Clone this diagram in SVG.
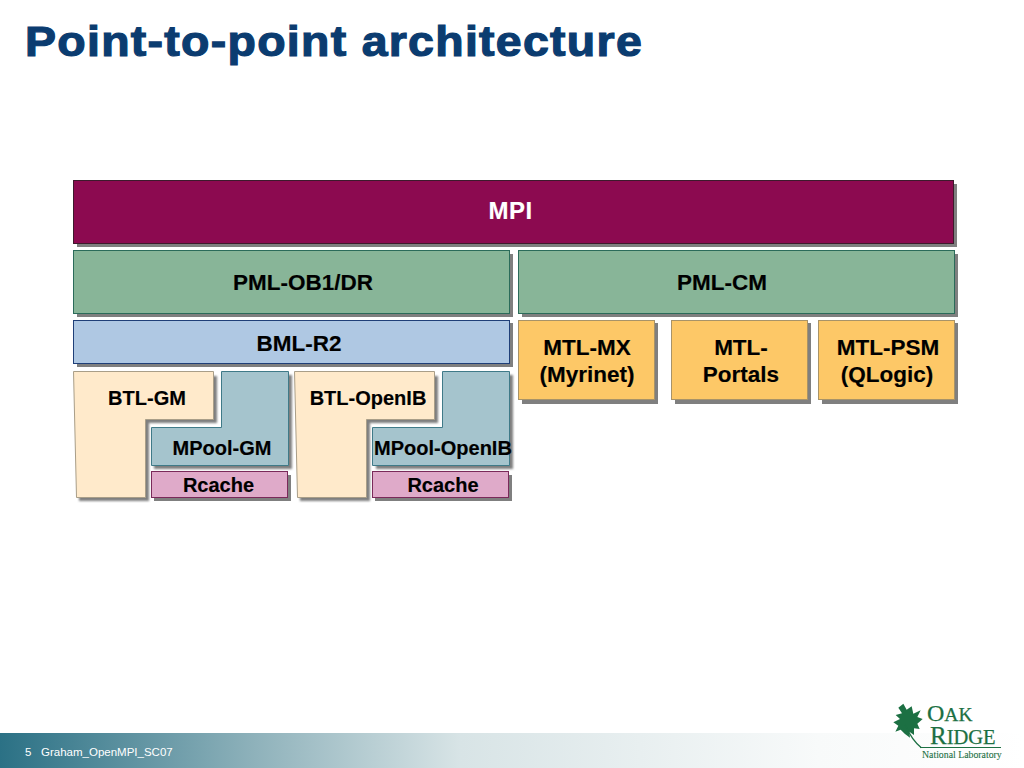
<svg xmlns="http://www.w3.org/2000/svg" width="1024" height="768" viewBox="0 0 1024 768">
<style>
text{font-family:"Liberation Sans",Arial,sans-serif;font-weight:700;fill:#000;text-anchor:middle;stroke:#000;stroke-width:.15px}
.l{font-size:22.5px}
.m{font-size:20px}
.s{fill:#7f7f7f}
.mpi{fill:#8c0a50;stroke:#3d1a2c;stroke-width:1}
.pml{fill:#88b598;stroke:#2b6b5a;stroke-width:1}
.bml{fill:#afc8e3;stroke:#1f3f78;stroke-width:1}
.mtl{fill:#fdc867;stroke:#a89368;stroke-width:1}
.btl{fill:#ffeacb;stroke:#a99e88;stroke-width:1}
.mp{fill:#a5c4cd;stroke:#3f7a88;stroke-width:1}
.rc{fill:#dfaac9;stroke:#7a2a5a;stroke-width:1}
.f{font-size:11.5px;font-weight:400;fill:#fff;stroke:none;text-anchor:start}
.o{font-family:"Liberation Serif",serif;font-weight:400;fill:#1c7043;stroke:#1c7043;stroke-width:.25px;text-anchor:start}
</style>
<defs>
<linearGradient id="bar" x1="0" x2="1" y1="0" y2="0"><stop offset="0" stop-color="#2b7185"/><stop offset=".25" stop-color="#8fb2bb"/><stop offset=".45" stop-color="#d8e4e6"/><stop offset=".8" stop-color="#f8fafa"/><stop offset="1" stop-color="#fff"/></linearGradient>
<filter id="blur" x="-5%" y="-5%" width="110%" height="110%"><feGaussianBlur stdDeviation="1"/></filter>
</defs>
<rect width="1024" height="768" fill="#fff"/>
<text transform="translate(25 56) scale(1.08 1)" x="0" y="0" style="font-size:43px;fill:#0b3c70;stroke:#0b3c70;stroke-width:1.2px;text-anchor:start;letter-spacing:1.2px">Point-to-point architecture</text>
<g id="footer">
<rect x="0" y="733" width="1024" height="35" fill="url(#bar)"/>
<text class="f" x="25" y="756">5</text>
<text class="f" x="41" y="756">Graham_OpenMPI_SC07</text>
</g>
<g id="mpi"><rect class="s" x="77" y="184" width="880" height="63"/><rect class="mpi" x="73.500" y="180.500" width="880" height="63"/><text style="font-size:24px;letter-spacing:.5px;fill:#fff;stroke:#fff" x="510.500" y="219">MPI</text></g>
<g id="pml-ob1"><rect class="s" x="77" y="254" width="436" height="63"/><rect class="pml" x="73.500" y="250.500" width="436" height="63"/><text class="l" x="303" y="290">PML-OB1/DR</text></g>
<g id="pml-cm"><rect class="s" x="522" y="254" width="436" height="63"/><rect class="pml" x="518.500" y="250.500" width="436" height="63"/><text class="l" x="722" y="290">PML-CM</text></g>
<g id="bml"><rect class="s" x="77" y="323" width="436" height="44"/><rect class="bml" x="73.500" y="320.500" width="436" height="43"/><text class="l" x="299" y="351">BML-R2</text></g>
<g id="mtl-mx"><rect class="s" x="522" y="323" width="136" height="81"/><rect class="mtl" x="518.500" y="320.500" width="136" height="79"/><text class="l" x="587" y="355">MTL-MX</text><text class="l" x="587" y="382">(Myrinet)</text></g>
<g id="mtl-portals"><rect class="s" x="675" y="323" width="136" height="81"/><rect class="mtl" x="671.500" y="320.500" width="136" height="79"/><text class="l" x="741" y="355">MTL-</text><text class="l" x="741" y="382">Portals</text></g>
<g id="mtl-psm"><rect class="s" x="822" y="323" width="136" height="81"/><rect class="mtl" x="818.500" y="320.500" width="136" height="79"/><text class="l" x="888" y="355">MTL-PSM</text><text class="l" x="887" y="382">(QLogic)</text></g>
<g id="btl-gm"><path class="s" filter="url(#blur)" d="M78 376H217V423H149V501H79Z"/><path class="btl" d="M73.500 371.500H213.500V419.500H145.500V497.500H76.500Z"/><text class="m" x="147" y="405">BTL-GM</text></g>
<g id="mpool-gm"><path class="s" filter="url(#blur)" d="M224 375H292V469H154V431H224Z"/><path class="mp" d="M221.500 371.500H288.500V465.500H151.500V427.500H221.500Z"/><text class="m" x="222" y="455">MPool-GM</text></g>
<g id="rcache-gm"><rect class="s" x="154" y="475" width="137" height="26"/><rect class="rc" x="151.500" y="471.500" width="136" height="26"/><text class="m" x="218.500" y="492">Rcache</text></g>
<g id="btl-openib"><path class="s" filter="url(#blur)" d="M299 376H438V423H370V501H300Z"/><path class="btl" d="M294.500 371.500H434.500V419.500H366.500V497.500H297.500Z"/><text class="m" x="368" y="405">BTL-OpenIB</text></g>
<g id="mpool-openib"><path class="s" filter="url(#blur)" d="M445 375H513V469H376V431H445Z"/><path class="mp" d="M442.500 371.500H509.500V465.500H372.500V427.500H442.500Z"/><text class="m" x="443" y="455">MPool-OpenIB</text></g>
<g id="rcache-openib"><rect class="s" x="375" y="475" width="137" height="26"/><rect class="rc" x="372.500" y="471.500" width="136" height="26"/><text class="m" x="443" y="492">Rcache</text></g>
<g id="logo">
<g transform="translate(880 695) scale(.3333)">
<path d="M70 26L80 44L95 34L100 56L122 46L112 66L128 72L112 86L119 102L102 100L102 120L88 110L90 128L74 116L62 104L46 110L55 92L40 82L60 72L47 60L66 55L55 38Z" fill="#1c7043"/>
<path d="M76 90Q95 135 124 158" fill="none" stroke="#1c7043" stroke-width="4"/>
</g>
<text class="o" x="927" y="721" style="font-size:24px">O<tspan font-size="19.500">AK</tspan></text>
<text class="o" x="930" y="744" style="font-size:25px">R<tspan font-size="20.500">IDGE</tspan></text>
<rect x="920" y="747" width="81" height="1" fill="#1c7043"/>
<text class="o" x="922" y="758" style="font-size:9.800px;stroke-width:.1px">National Laboratory</text>
</g>
</svg>
